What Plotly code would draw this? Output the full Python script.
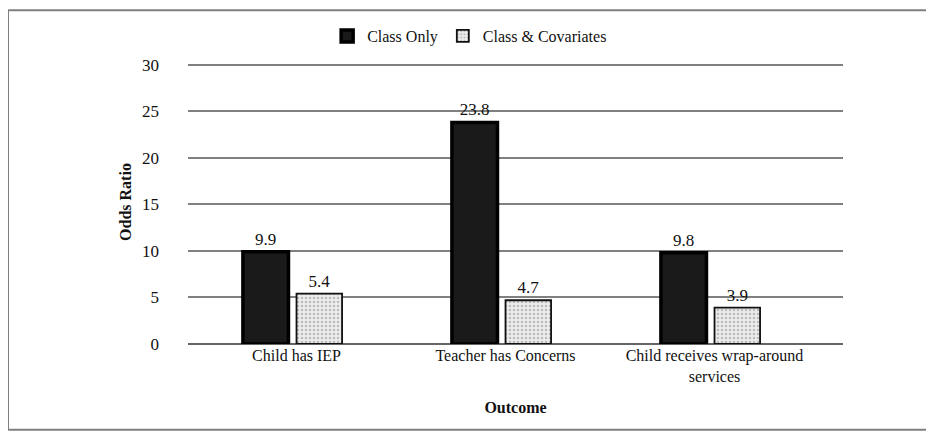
import plotly.graph_objects as go

categories = ["Child has IEP", "Teacher has Concerns", "Child receives wrap-around<br>services"]
class_only = [9.9, 23.8, 9.8]
class_cov = [5.4, 4.7, 3.9]
series_names = ["Class Only", "Class & Covariates"]
y_ticks = [0, 5, 10, 15, 20, 25, 30]

FONT = "Liberation Serif"

fig = go.Figure()
fig.add_trace(go.Bar(
    x=categories, y=class_only, name=series_names[0],
    marker=dict(color="#1a1a1a", line=dict(color="#000000", width=3.5)),
    text=[f"{v:.1f}" for v in class_only], textposition="outside",
    textfont=dict(family=FONT, size=17, color="#111"), cliponaxis=False,
))
fig.add_trace(go.Bar(
    x=categories, y=class_cov, name=series_names[1],
    marker=dict(color="#e6e6e6", line=dict(color="#111111", width=1.8),
                pattern=dict(shape=".", fgcolor="#8a8a8a", bgcolor="#ececec", size=4, solidity=0.3)),
    text=[f"{v:.1f}" for v in class_cov], textposition="outside",
    textfont=dict(family=FONT, size=17, color="#111"), cliponaxis=False,
))

fig.update_layout(
    width=934, height=431,
    margin=dict(l=180, r=99, t=51, b=95),
    paper_bgcolor="white", plot_bgcolor="white",
    font=dict(family=FONT, size=16, color="#111"),
    barmode="group", bargap=0.487, bargroupgap=0.15,
    legend=dict(orientation="h", x=0.43, xanchor="center", y=1.0807, yanchor="middle",
                font=dict(family=FONT, size=16), itemwidth=30, traceorder="normal"),
    xaxis=dict(title=dict(text="<b>Outcome</b>", font=dict(family=FONT, size=16), standoff=18),
               range=[-0.5, 2.634], showline=False, ticks="", ticklabelshift=4,
               tickfont=dict(family=FONT, size=16)),
    yaxis=dict(title=dict(text="<b>Odds Ratio</b>", font=dict(family=FONT, size=16), standoff=6),
               range=[0, 30.5], tickvals=y_ticks, showgrid=True, gridcolor="#808080", gridwidth=1.5,
               zeroline=True, zerolinecolor="#666666", zerolinewidth=2,
               ticklabelstandoff=28, tickfont=dict(family=FONT, size=17)),
    showlegend=True,
)

fig.add_shape(type="rect", xref="paper", yref="paper",
              x0=-0.2748, x1=1.2, y0=-0.3018, y1=1.1754,
              line=dict(color="#808080", width=2), fillcolor="rgba(0,0,0,0)", layer="below")

fig.write_html("out.html")
